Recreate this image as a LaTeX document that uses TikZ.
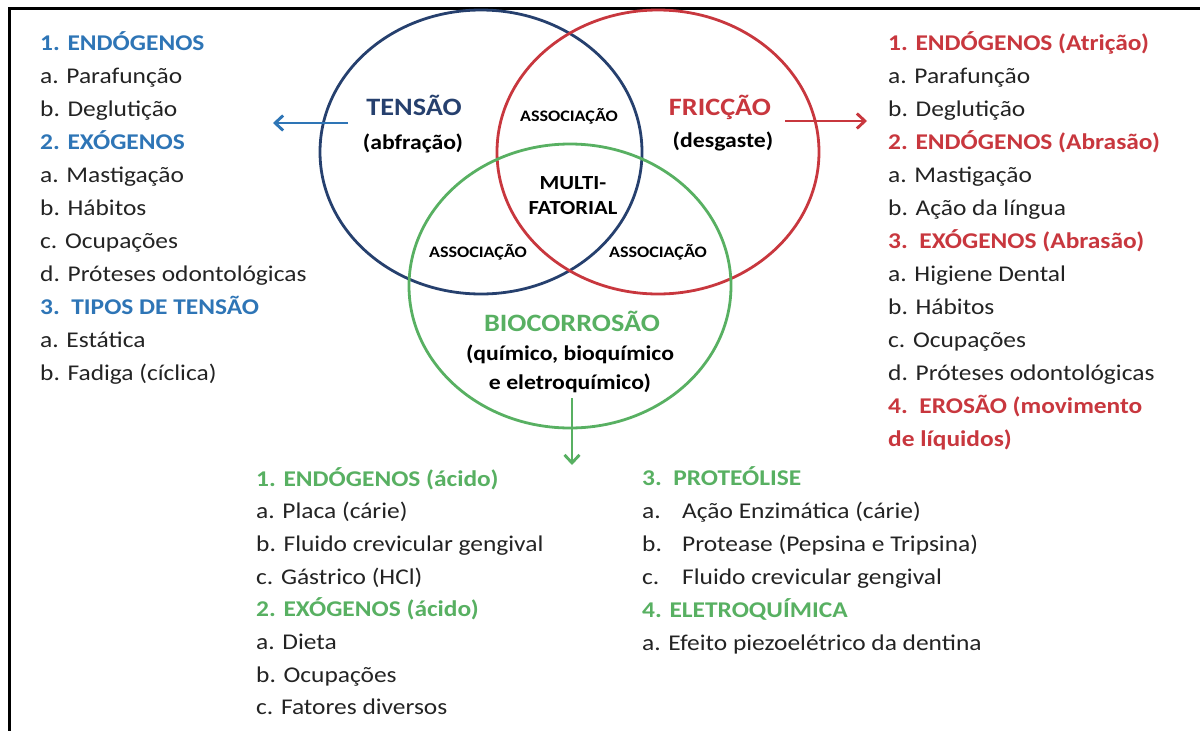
\documentclass[tikz,border=0pt]{standalone}
\usepackage{fontspec}
\setmainfont{Carlito}[FakeStretch=1.13]
\usetikzlibrary{shapes.geometric, arrows.meta}

\definecolor{navy}{RGB}{38,64,110}
\definecolor{tblue}{RGB}{46,117,182}
\definecolor{fred}{RGB}{200,55,62}
\definecolor{bgreen}{RGB}{88,176,98}
\definecolor{txtgray}{RGB}{35,35,35}

\begin{document}
\begin{tikzpicture}
		[x=1pt, y=-1pt,
		circ/.style = {draw, ellipse, line width=2.8pt, minimum width=322pt, minimum height=284pt, inner sep=0pt},
		item/.style = {anchor=base west, inner sep=0pt, text=txtgray, font=\fontsize{22.5}{27}\selectfont},
		bh/.style = {item, text=tblue, font=\fontsize{22.5}{27}\selectfont\bfseries},
		rh/.style = {item, text=fred, font=\fontsize{22.5}{27}\selectfont\bfseries},
		gh/.style = {item, text=bgreen, font=\fontsize{22.5}{27}\selectfont\bfseries},
		big/.style = {anchor=base, inner sep=0pt, font=\fontsize{25}{30}\selectfont\bfseries},
		sub/.style = {anchor=base, inner sep=0pt, font=\fontsize{21}{25}\selectfont\bfseries},
		assoc/.style = {anchor=base, inner sep=0pt, font=\fontsize{16}{19}\selectfont\bfseries},
		arr/.style = {-{Straight Barb[length=8pt,width=15pt]}, line width=2.9pt}]
		
		\useasboundingbox (0,0) rectangle (1200,731);
		\draw[line width=3pt] (1200,8) -- (9,8) -- (9,731);
		
		% the three circles
		\node[circ, draw=navy] (tensaoc) at (481,152) {};
		\node[circ, draw=fred] (friccaoc) at (658,152) {};
		\node[circ, draw=bgreen] (bioc) at (570,286) {};
		
		\node[big, text=navy] (tensao) at (414,115) {TENSÃO};
		\node[sub] (abfracao) at (413,149) {(abfração)};
		\node[big, text=fred] (friccao) at (720,115) {FRICÇÃO};
		\node[sub] (desgaste) at (723,147) {(desgaste)};
		\node[big, text=bgreen] (bio) at (572,331) {BIOCORROSÃO};
		\node[sub] (quimico) at (570,360) {(químico, bioquímico};
		\node[sub] (eletro) at (570,389) {e eletroquímico)};
		
		\node[assoc] (assoctop) at (569,121) {ASSOCIAÇÃO};
		\node[assoc] (assocleft) at (478,257) {ASSOCIAÇÃO};
		\node[assoc] (assocright) at (658,257) {ASSOCIAÇÃO};
		\node[sub, font=\fontsize{20}{24}\selectfont\bfseries] (multi) at (573,189) {MULTI-};
		\node[sub, font=\fontsize{20}{24}\selectfont\bfseries] (fatorial) at (573,214) {FATORIAL};
		
		% lists
		\foreach \s/\t [count=\i from 0] in {
			bh/{1. ENDÓGENOS}, item/{a. Parafunção}, item/{b. Deglutição},
			bh/{2. EXÓGENOS}, item/{a. Mastigação}, item/{b. Hábitos},
			item/{c. Ocupações}, item/{d. Próteses\ odontológicas},
			bh/{3.\ \ TIPOS DE TENSÃO}, item/{a. Estática}, item/{b. Fadiga (cíclica)}}
		{
			\node[\s] (left\i) at (40, {50+33*\i}) {\t};
		}
		\foreach \s/\t [count=\i from 0] in {
			rh/{1. ENDÓGENOS (Atrição)}, item/{a. Parafunção}, item/{b. Deglutição},
			rh/{2. ENDÓGENOS (Abrasão)}, item/{a. Mastigação}, item/{b. Ação da língua},
			rh/{3.\ \ EXÓGENOS (Abrasão)}, item/{a. Higiene Dental}, item/{b. Hábitos},
			item/{c. Ocupações}, item/{d. Próteses\ odontológicas},
			rh/{4.\ \ EROSÃO (movimento}, rh/{de líquidos)}}
		{
			\node[\s] (right\i) at (888, {50+33*\i}) {\t};
		}
		\foreach \s/\t [count=\i from 0] in {
			gh/{1. ENDÓGENOS (ácido)}, item/{a. Placa (cárie)},
			item/{b. Fluido crevicular gengival}, item/{c. Gástrico (HCl)},
			gh/{2. EXÓGENOS (ácido)}, item/{a. Dieta}, item/{b. Ocupações},
			item/{c. Fatores diversos}}
		{
			\node[\s] (botl\i) at (256, {486+32.7*\i}) {\t};
		}
		\foreach \s/\t [count=\i from 0] in {
			gh/{3.\ \ PROTEÓLISE},
			item/{\makebox[40pt][l]{a.}Ação Enzimática (cárie)},
			item/{\makebox[40pt][l]{b.}Protease (Pepsina e Tripsina)},
			item/{\makebox[40pt][l]{c.}Fluido crevicular gengival},
			gh/{4. ELETROQUÍMICA}, item/{a. Efeito piezoelétrico da dentina}}
		{
			\node[\s] (botr\i) at (642, {485+33*\i}) {\t};
		}
		
		\coordinate (tensaoout) at (348,123);
		\coordinate (tensaotip) at (273,123);
		\coordinate (friccaoout) at (785,121);
		\coordinate (friccaotip) at (867,121);
		\coordinate (bioout) at (572,398);
		\coordinate (biotip) at (572,465);
		
		\draw[arr, tblue] (tensaoout) -- (tensaotip);
		\draw[arr, fred] (friccaoout) -- (friccaotip);
		\draw[arr, bgreen] (bioout) -- (biotip);
		
	\end{tikzpicture}
\end{document}
